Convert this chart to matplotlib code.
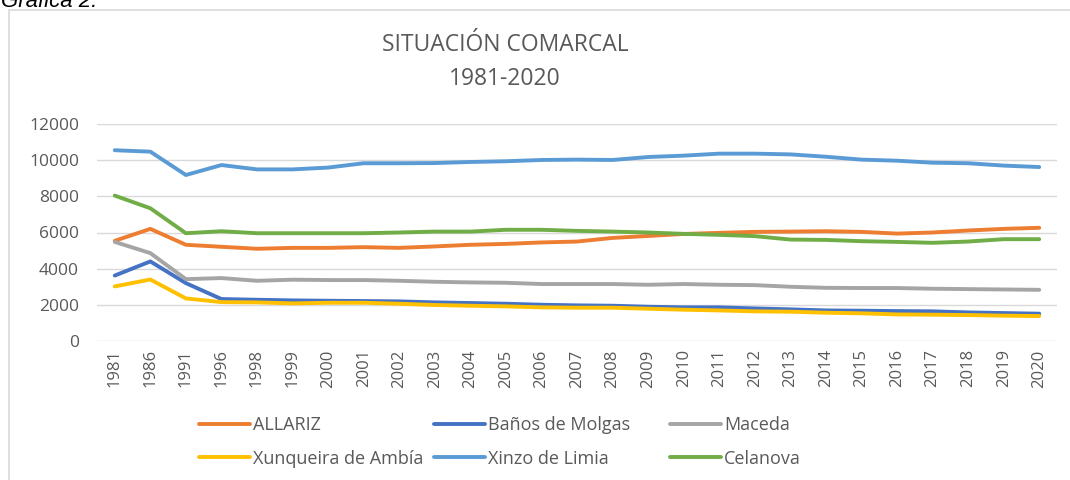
import matplotlib
matplotlib.use("Agg")
import matplotlib.pyplot as plt
from matplotlib.patches import Rectangle

years = ["1981", "1986", "1991", "1996", "1998", "1999", "2000", "2001", "2002",
         "2003", "2004", "2005", "2006", "2007", "2008", "2009", "2010", "2011",
         "2012", "2013", "2014", "2015", "2016", "2017", "2018", "2019", "2020"]

allariz = [5540, 6200, 5320, 5210, 5100, 5150, 5150, 5190, 5150, 5230, 5320, 5370,
           5450, 5500, 5700, 5810, 5920, 5980, 6035, 6050, 6070, 6035, 5940, 6000,
           6110, 6200, 6260]
banos = [3620, 4400, 3200, 2320, 2280, 2245, 2225, 2210, 2190, 2135, 2100, 2060,
         2005, 1970, 1950, 1895, 1860, 1860, 1800, 1750, 1690, 1675, 1655, 1640,
         1580, 1545, 1510]
maceda = [5480, 4860, 3420, 3480, 3330, 3390, 3370, 3370, 3330, 3275, 3240, 3220,
          3150, 3150, 3150, 3110, 3150, 3110, 3090, 3000, 2940, 2930, 2930, 2890,
          2870, 2850, 2830]
xunqueira = [3020, 3400, 2355, 2150, 2135, 2080, 2115, 2115, 2060, 1990, 1950, 1915,
             1860, 1840, 1840, 1785, 1730, 1690, 1640, 1620, 1565, 1530, 1470, 1455,
             1435, 1400, 1380]
xinzo = [10550, 10470, 9180, 9730, 9490, 9490, 9590, 9830, 9830, 9840, 9900, 9940,
         10010, 10030, 10010, 10175, 10250, 10360, 10360, 10320, 10190, 10030, 9970,
         9860, 9830, 9700, 9620]
celanova = [8040, 7340, 5960, 6070, 5960, 5960, 5960, 5960, 6000, 6050, 6050, 6150,
            6150, 6090, 6050, 6000, 5925, 5870, 5800, 5610, 5590, 5520, 5480, 5430,
            5500, 5630, 5630]

names = ["ALLARIZ", "Baños de Molgas", "Maceda", "Xunqueira de Ambía",
         "Xinzo de Limia", "Celanova"]
series = [allariz, banos, maceda, xunqueira, xinzo, celanova]
colors = ["#ED7D31", "#4472C4", "#A5A5A5", "#FFC000", "#5B9BD5", "#70AD47"]

plt.rcParams['font.family'] = ['Open Sans', 'DejaVu Sans']
txt = "#595959"

fig = plt.figure(figsize=(10.7, 4.8), dpi=100)
fig.patches.append(Rectangle((9/1070, -0.01), 1.1, 1 - 10/480 + 0.01,
                             transform=fig.transFigure, fill=False,
                             edgecolor="#D9D9D9", linewidth=1.2))
fig.text(1/1070, 1 - 7/480, "Gráfica 2:", ha="left", va="baseline", style="italic",
         fontsize=16, family=['Liberation Sans', 'DejaVu Sans'], color="#000000")

ax = fig.add_axes([97/1070, 139/480, 960/1070, 217/480])
x = list(range(len(years)))
handles = {}
for name, vals, c in zip(names, series, colors):
    h, = ax.plot(x, vals, color=c, linewidth=2.8, solid_capstyle="round")
    handles[name] = h

ax.set_xlim(-0.5, len(years) - 0.5)
ax.set_ylim(0, 12000)
ax.set_yticks(range(0, 12001, 2000))
ax.set_xticks(x)
ax.set_xticklabels(years, rotation=90, fontsize=12, color=txt)
ax.tick_params(axis="y", labelsize=12.5, labelcolor=txt, length=0, pad=13)
ax.tick_params(axis="x", length=0, pad=6)
ax.grid(axis="y", color="#D9D9D9", linewidth=1)
ax.set_axisbelow(True)
for s in ax.spines.values():
    s.set_visible(False)

fig.text(505/1070, 1 - 45/480, "SITUACIÓN COMARCAL", ha="center", va="center",
         fontsize=16.5, color=txt)
fig.text(505/1070, 1 - 79/480, "1981-2020", ha="center", va="center",
         fontsize=16.5, color=txt)

columns = [(199, ["ALLARIZ", "Xunqueira de Ambía"]),
           (434, ["Baños de Molgas", "Xinzo de Limia"]),
           (670, ["Maceda", "Celanova"])]
for xpos, labs in columns:
    leg = fig.legend([handles[n] for n in labs], labs, ncol=1,
                     loc="center left", bbox_to_anchor=(xpos/1070, 1 - 442/480),
                     frameon=False, fontsize=13, handlelength=2.8,
                     handletextpad=0.2, labelspacing=0.85, borderaxespad=0,
                     borderpad=0)
    for t in leg.get_texts():
        t.set_color(txt)

fig.savefig("out.png", dpi=100, facecolor="white")
